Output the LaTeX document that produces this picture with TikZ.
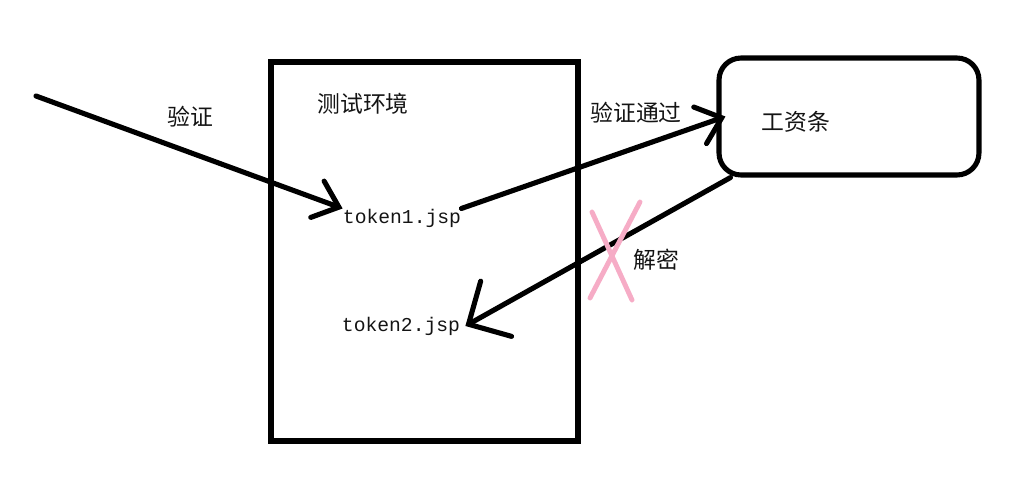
\documentclass[tikz,border=0pt]{standalone}
\usepackage{fontspec}
\usepackage{tikz}
\usetikzlibrary{positioning,arrows.meta}
\setmainfont{Liberation Serif}
\newfontfamily\cjk{Noto Sans CJK SC}
\newfontfamily\codefont{Liberation Mono}
\definecolor{CrossPink}{RGB}{246,172,198}
\definecolor{DarkText}{RGB}{20,20,20}

\begin{document}
\begin{tikzpicture}[x=0.02cm, y=-0.02cm,
    frame/.style={rectangle, draw=black, line width=2.9pt, inner sep=0pt},
    lbl/.style={font=\cjk\fontsize{13}{15}\selectfont, text=DarkText, inner sep=0pt},
    code/.style={font=\codefont\fontsize{11.2}{13}\selectfont, text=DarkText, inner sep=0pt},
    arr/.style={-{Straight Barb[length=13pt, width=22pt, line cap=round]}, line width=2.9pt, line cap=round},
    cross/.style={line width=2.8pt, CrossPink, line cap=round},
]
\useasboundingbox (0,0) rectangle (1036,494);

% boxes
\node[frame, minimum width=6.14cm, minimum height=7.58cm] (env) at (424.5,251.5) {};
\node[frame, rounded corners=0.44cm, minimum width=5.2cm, minimum height=2.34cm] (pay) at (849,116.5) {};

% texts
\node[lbl] (envlbl) at (363,104) {测试环境};
\node[lbl] (paylbl) at (796,122) {工资条};
\node[lbl] (auth) at (190,117) {验证};
\node[lbl] (pass) at (636,113) {验证通过};
\node[lbl] (decrypt) at (656,260) {解密};
\node[code] (tok1) at (402,218) {token1.jsp};
\node[code] (tok2) at (401,326) {token2.jsp};

\coordinate (src) at (36,96);

% arrows
\draw[arr] (src) -- (tok1.north west);
\draw[arr] (tok1.north east) -- ([xshift=0.18cm]pay.west);
\draw[arr, -{Straight Barb[length=18pt, width=36pt, line cap=round]}] ([xshift=0.28cm]pay.south west) -- ([xshift=0.1cm]tok2.east);

% crossed out
\draw[cross] (592,212) -- (632,300);
\draw[cross] (640,202) -- (590,298);
\end{tikzpicture}
\end{document}
